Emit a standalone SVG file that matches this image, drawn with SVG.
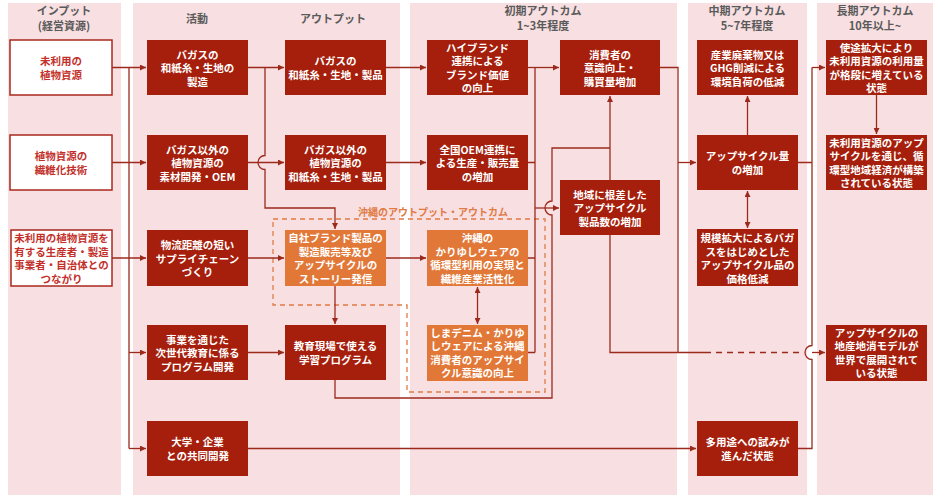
<svg xmlns="http://www.w3.org/2000/svg" width="935" height="498" viewBox="0 0 935 498">
<defs>
<marker id="ah" viewBox="0 0 6 6" refX="6" refY="3" markerWidth="6" markerHeight="6" markerUnits="userSpaceOnUse" orient="auto-start-reverse"><path d="M0,0 L6,3 L0,6 z" fill="#9c2a1c"/></marker>
<style>
.col{fill:#f8dfe1}
.hd{fill:#5a5a5a;font-family:"Noto Sans CJK JP","Noto Sans",sans-serif;font-weight:700;font-size:11px;text-anchor:middle;dominant-baseline:central}
.bx{fill:#a51f0c}
.or{fill:#e27838}
.in{fill:#fff;stroke:#a8291c;stroke-width:1.5}
.t{fill:#fff;font-family:"Noto Sans CJK JP","Noto Sans",sans-serif;font-weight:700;font-size:10.5px;text-anchor:middle;dominant-baseline:central}
.rt{fill:#c3302a;font-family:"Noto Sans CJK JP","Noto Sans",sans-serif;font-weight:700;font-size:10.5px;text-anchor:middle;dominant-baseline:central}
.ln{fill:none;stroke:#9c2a1c;stroke-width:1.3}
.arr{marker-end:url(#ah)}
.dbl{marker-start:url(#ah);marker-end:url(#ah)}
.dsh{fill:none;stroke:#e07b45;stroke-width:1.3;stroke-dasharray:5 4}
.ol{fill:#e07b45;font-family:"Noto Sans CJK JP","Noto Sans",sans-serif;font-weight:700;font-size:10px;text-anchor:middle;dominant-baseline:central}
</style>
</defs>
<g id="columns">
<rect class="col" x="8" y="3" width="113" height="492"/>
<rect class="col" x="133" y="3" width="267" height="492"/>
<rect class="col" x="410" y="3" width="267" height="492"/>
<rect class="col" x="688" y="3" width="119" height="492"/>
<rect class="col" x="817" y="3" width="116" height="492"/>
<text class="hd" x="64" y="10">インプット</text>
<text class="hd" x="64" y="25">(経営資源)</text>
<text class="hd" x="197" y="17.5">活動</text>
<text class="hd" x="333" y="17.5">アウトプット</text>
<text class="hd" x="543" y="10">初期アウトカム</text>
<text class="hd" x="543" y="25">1~3年程度</text>
<text class="hd" x="747" y="10">中期アウトカム</text>
<text class="hd" x="747" y="25">5~7年程度</text>
<text class="hd" x="875" y="10">長期アウトカム</text>
<text class="hd" x="875" y="25">10年以上~</text>
</g>
<g id="okinawa-group">
<polygon class="dsh" points="273,219 545,219 545,392 407,392 407,305 273,305"/>
<text class="ol" x="433" y="211">沖縄のアウトプット・アウトカム</text>
</g>
<g id="connectors">
<path class="ln" d="M129 67.5 V448.5"/>
<path class="ln arr" d="M112 67.5 H146"/>
<path class="ln arr" d="M112 162.5 H146"/>
<path class="ln arr" d="M112 258 H146"/>
<path class="ln arr" d="M129 352.5 H146"/>
<path class="ln arr" d="M129 448.5 H146"/>
<path class="ln arr" d="M248 67.5 H284"/>
<path class="ln arr" d="M265 67.5 V155.5 A7 7 0 0 0 265 169.5 V208 H335 V229"/>
<path class="ln arr" d="M248 162.5 H284"/>
<path class="ln arr" d="M248 258 H284"/>
<path class="ln arr" d="M248 352.5 H284"/>
<path class="ln arr" d="M335 286 V324"/>
<path class="ln" d="M335 380 V398 H552 V215 A7 7 0 0 1 552 201 V148 H610"/>
<path class="ln arr" d="M610 180 V96"/>
<path class="ln arr" d="M386 67.5 H426"/>
<path class="ln arr" d="M386 162.5 H426"/>
<path class="ln arr" d="M386 258 H426"/>
<path class="ln arr" d="M528 67.5 H559"/>
<path class="ln" d="M528 162.5 H535 M528 258 H535 M528 352.5 H535 M535 67.5 V352.5"/>
<path class="ln arr" d="M535 208 H559"/>
<path class="ln dbl" d="M477.5 287 V324"/>
<path class="ln" d="M660 67.5 H678 V352.5"/>
<path class="ln arr" d="M678 162.5 H696"/>
<path class="ln" d="M610 235 V352.5 H705"/>
<path class="ln" stroke-dasharray="6 5" d="M705 352.5 H804"/>
<path class="ln arr" d="M812 352.5 H825"/>
<path class="ln arr" d="M747.5 135 V96"/>
<path class="ln dbl" d="M747.5 191 V228"/>
<path class="ln" d="M798 162.5 H812 M812 67.5 V345.5 A7 7 0 0 0 812 359.5 V448.5 H798"/>
<path class="ln arr" d="M812 67.5 H825"/>
<path class="ln arr" d="M876.5 95 V134"/>
<path class="ln arr" d="M248 448.5 H696"/>
</g>
<g id="in1"><rect class="in" x="10" y="40" width="102" height="55"/><text class="rt" x="61" y="60.75">未利用の</text><text class="rt" x="61" y="74.25">植物資源</text></g>
<g id="in2"><rect class="in" x="10" y="135" width="102" height="55"/><text class="rt" x="61" y="155.75">植物資源の</text><text class="rt" x="61" y="169.25">繊維化技術</text></g>
<g id="in3"><rect class="in" x="11" y="230" width="101" height="56"/><text class="rt" x="61.5" y="237.75">未利用の植物資源を</text><text class="rt" x="61.5" y="251.25">有する生産者・製造</text><text class="rt" x="61.5" y="264.75">事業者・自治体との</text><text class="rt" x="61.5" y="278.25">つながり</text></g>
<g id="act1"><rect class="bx" x="147" y="40" width="101" height="55"/><text class="t" x="197.5" y="54">バガスの</text><text class="t" x="197.5" y="67.5">和紙糸・生地の</text><text class="t" x="197.5" y="81">製造</text></g>
<g id="act2"><rect class="bx" x="147" y="135" width="101" height="55"/><text class="t" x="197.5" y="149">バガス以外の</text><text class="t" x="197.5" y="162.5">植物資源の</text><text class="t" x="197.5" y="176">素材開発・OEM</text></g>
<g id="act3"><rect class="bx" x="147" y="230" width="101" height="56"/><text class="t" x="197.5" y="244.5">物流距離の短い</text><text class="t" x="197.5" y="258">サプライチェーン</text><text class="t" x="197.5" y="271.5">づくり</text></g>
<g id="act4"><rect class="bx" x="147" y="325" width="101" height="55"/><text class="t" x="197.5" y="339">事業を通じた</text><text class="t" x="197.5" y="352.5">次世代教育に係る</text><text class="t" x="197.5" y="366">プログラム開発</text></g>
<g id="act5"><rect class="bx" x="147" y="421" width="101" height="55"/><text class="t" x="197.5" y="441.75">大学・企業</text><text class="t" x="197.5" y="455.25">との共同開発</text></g>
<g id="out1"><rect class="bx" x="285" y="40" width="101" height="55"/><text class="t" x="335.5" y="60.75">バガスの</text><text class="t" x="335.5" y="74.25">和紙糸・生地・製品</text></g>
<g id="out2"><rect class="bx" x="285" y="135" width="101" height="55"/><text class="t" x="335.5" y="149">バガス以外の</text><text class="t" x="335.5" y="162.5">植物資源の</text><text class="t" x="335.5" y="176">和紙糸・生地・製品</text></g>
<g id="out3"><rect class="or" x="285" y="230" width="101" height="56"/><text class="t" x="335.5" y="237.75">自社ブランド製品の</text><text class="t" x="335.5" y="251.25">製造販売等及び</text><text class="t" x="335.5" y="264.75">アップサイクルの</text><text class="t" x="335.5" y="278.25">ストーリー発信</text></g>
<g id="out4"><rect class="bx" x="285" y="325" width="101" height="55"/><text class="t" x="335.5" y="345.75">教育現場で使える</text><text class="t" x="335.5" y="359.25">学習プログラム</text></g>
<g id="init1"><rect class="bx" x="427" y="40" width="101" height="55"/><text class="t" x="477.5" y="47.25">ハイブランド</text><text class="t" x="477.5" y="60.75">連携による</text><text class="t" x="477.5" y="74.25">ブランド価値</text><text class="t" x="477.5" y="87.75">の向上</text></g>
<g id="init2"><rect class="bx" x="427" y="135" width="101" height="55"/><text class="t" x="477.5" y="149">全国OEM連携に</text><text class="t" x="477.5" y="162.5">よる生産・販売量</text><text class="t" x="477.5" y="176">の増加</text></g>
<g id="init3"><rect class="or" x="427" y="230" width="101" height="56"/><text class="t" x="477.5" y="237.75">沖縄の</text><text class="t" x="477.5" y="251.25">かりゆしウェアの</text><text class="t" x="477.5" y="264.75">循環型利用の実現と</text><text class="t" x="477.5" y="278.25">繊維産業活性化</text></g>
<g id="init4"><rect class="or" x="427" y="325" width="101" height="56"/><text class="t" x="477.5" y="332.25">しまデニム・かりゆ</text><text class="t" x="477.5" y="345.75">しウェアによる沖縄</text><text class="t" x="477.5" y="359.25">消費者のアップサイ</text><text class="t" x="477.5" y="372.75">クル意識の向上</text></g>
<g id="init5"><rect class="bx" x="560" y="40" width="100" height="55"/><text class="t" x="610" y="54">消費者の</text><text class="t" x="610" y="67.5">意識向上・</text><text class="t" x="610" y="81">購買量増加</text></g>
<g id="init6"><rect class="bx" x="560" y="180" width="100" height="55"/><text class="t" x="610" y="194">地域に根差した</text><text class="t" x="610" y="207.5">アップサイクル</text><text class="t" x="610" y="221">製品数の増加</text></g>
<g id="mid1"><rect class="bx" x="697" y="40" width="101" height="55"/><text class="t" x="747.5" y="54">産業廃棄物又は</text><text class="t" x="747.5" y="67.5">GHG削減による</text><text class="t" x="747.5" y="81">環境負荷の低減</text></g>
<g id="mid2"><rect class="bx" x="697" y="135" width="101" height="55"/><text class="t" x="747.5" y="155.75">アップサイクル量</text><text class="t" x="747.5" y="169.25">の増加</text></g>
<g id="mid3"><rect class="bx" x="697" y="229" width="101" height="57"/><text class="t" x="747.5" y="237.75">規模拡大によるバガ</text><text class="t" x="747.5" y="251.25">スをはじめとした</text><text class="t" x="747.5" y="264.75">アップサイクル品の</text><text class="t" x="747.5" y="278.25">価格低減</text></g>
<g id="mid4"><rect class="bx" x="697" y="421" width="101" height="55"/><text class="t" x="747.5" y="441.75">多用途への試みが</text><text class="t" x="747.5" y="455.25">進んだ状態</text></g>
<g id="long1"><rect class="bx" x="826" y="40" width="101" height="55"/><text class="t" x="876.5" y="47.25">使途拡大により</text><text class="t" x="876.5" y="60.75">未利用資源の利用量</text><text class="t" x="876.5" y="74.25">が格段に増えている</text><text class="t" x="876.5" y="87.75">状態</text></g>
<g id="long2"><rect class="bx" x="826" y="135" width="101" height="55"/><text class="t" x="876.5" y="142.25">未利用資源のアップ</text><text class="t" x="876.5" y="155.75">サイクルを通じ、循</text><text class="t" x="876.5" y="169.25">環型地域経済が構築</text><text class="t" x="876.5" y="182.75">されている状態</text></g>
<g id="long3"><rect class="bx" x="826" y="325" width="101" height="56"/><text class="t" x="876.5" y="332.25">アップサイクルの</text><text class="t" x="876.5" y="345.75">地産地消モデルが</text><text class="t" x="876.5" y="359.25">世界で展開されて</text><text class="t" x="876.5" y="372.75">いる状態</text></g>
</svg>
